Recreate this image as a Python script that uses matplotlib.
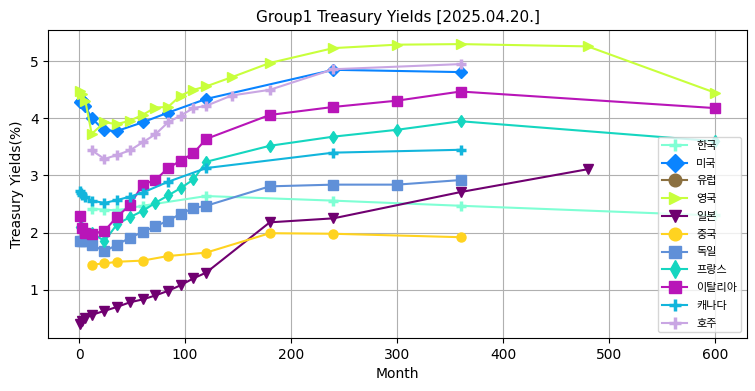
import matplotlib
matplotlib.use("Agg")
import matplotlib.pyplot as plt

plt.rcParams['font.family'] = ['DejaVu Sans', 'Noto Sans CJK KR']

# ---- data (months, yields %) ----
kr_x = [12, 24, 36, 60, 120, 240, 360, 600]
kr_y = [2.42, 2.40, 2.39, 2.47, 2.64, 2.56, 2.47, 2.30]

us_x = [1, 2, 3, 4, 6, 12, 24, 36, 60, 84, 120, 240, 360]
us_y = [4.29, 4.31, 4.32, 4.31, 4.21, 4.00, 3.79, 3.78, 3.93, 4.10, 4.34, 4.85, 4.81]

eu_x = []
eu_y = []

uk_x = [1, 3, 6, 12, 24, 36, 48, 60, 72, 84, 96, 108, 120, 144, 180, 240, 300, 360, 480, 600]
uk_y = [4.48, 4.42, 4.30, 3.73, 3.93, 3.90, 3.96, 4.06, 4.19, 4.20, 4.40, 4.50, 4.56, 4.72, 4.97, 5.23, 5.29, 5.30, 5.26, 4.45]

jp_x = [1, 3, 6, 12, 24, 36, 48, 60, 72, 84, 96, 108, 120, 180, 240, 360, 480]
jp_y = [0.40, 0.45, 0.50, 0.56, 0.63, 0.70, 0.78, 0.83, 0.90, 0.98, 1.08, 1.20, 1.30, 2.18, 2.25, 2.71, 3.11]

cn_x = [12, 24, 36, 60, 84, 120, 180, 240, 360]
cn_y = [1.44, 1.46, 1.49, 1.51, 1.59, 1.65, 1.99, 1.98, 1.92]

de_x = [1, 3, 6, 12, 24, 36, 48, 60, 72, 84, 96, 108, 120, 180, 240, 300, 360]
de_y = [1.86, 1.86, 1.85, 1.79, 1.67, 1.79, 1.91, 2.01, 2.11, 2.21, 2.33, 2.43, 2.47, 2.81, 2.84, 2.84, 2.92]

fr_x = [1, 3, 6, 12, 24, 36, 48, 60, 72, 84, 96, 108, 120, 180, 240, 300, 360, 600]
fr_y = [2.10, 2.08, 2.03, 2.00, 1.85, 2.15, 2.27, 2.38, 2.52, 2.65, 2.78, 2.93, 3.24, 3.52, 3.68, 3.80, 3.95, 3.60]

it_x = [1, 3, 6, 12, 24, 36, 48, 60, 72, 84, 96, 108, 120, 180, 240, 300, 360, 600]
it_y = [2.29, 2.08, 2.00, 1.98, 2.03, 2.28, 2.48, 2.84, 2.92, 3.13, 3.26, 3.39, 3.64, 4.06, 4.20, 4.31, 4.47, 4.18]

ca_x = [1, 2, 3, 6, 12, 24, 36, 48, 60, 84, 120, 240, 360]
ca_y = [2.73, 2.70, 2.66, 2.62, 2.56, 2.52, 2.57, 2.63, 2.70, 2.89, 3.13, 3.40, 3.45]

au_x = [12, 24, 36, 48, 60, 72, 84, 96, 108, 120, 144, 180, 240, 360]
au_y = [3.44, 3.29, 3.36, 3.44, 3.58, 3.72, 3.93, 4.05, 4.18, 4.22, 4.40, 4.50, 4.86, 4.95]

series = [
    ('한국', kr_x, kr_y, '#7FFFD4', '+'),
    ('미국', us_x, us_y, '#0A84FF', 'D'),
    ('유럽', eu_x, eu_y, '#8B7040', 'o'),
    ('영국', uk_x, uk_y, '#C8FF3C', '>'),
    ('일본', jp_x, jp_y, '#700070', 'v'),
    ('중국', cn_x, cn_y, '#FFD320', 'o'),
    ('독일', de_x, de_y, '#6090D8', 's'),
    ('프랑스', fr_x, fr_y, '#15D6C0', 'd'),
    ('이탈리아', it_x, it_y, '#B815B8', 's'),
    ('캐나다', ca_x, ca_y, '#12B5DC', '+'),
    ('호주', au_x, au_y, '#C9A6E3', '+'),
]

fig = plt.figure(figsize=(7.55, 3.91), dpi=100)
ax = fig.add_axes([0.064, 0.1355, 0.925, 0.7875])
for name, x, y, c, m in series:
    ms = 6.5
    mew = 2.5 if m == '+' else 1
    ax.plot(x, y, color=c, marker=m, markersize=ms, markeredgewidth=mew, linewidth=1.5, label=name)

ax.grid(True, color='#b0b0b0')
ax.set_title('Group1 Treasury Yields [2025.04.20.]', fontsize=11)
ax.set_xlabel('Month')
ax.set_ylabel('Treasury Yields(%)')
leg = ax.legend(loc='lower right', prop={'family': ['Noto Sans CJK KR', 'DejaVu Sans'], 'size': 8},
                markerscale=1.4, handlelength=2.3, labelspacing=0.7, borderpad=0.35)
fig.savefig('out.png', dpi=100)
